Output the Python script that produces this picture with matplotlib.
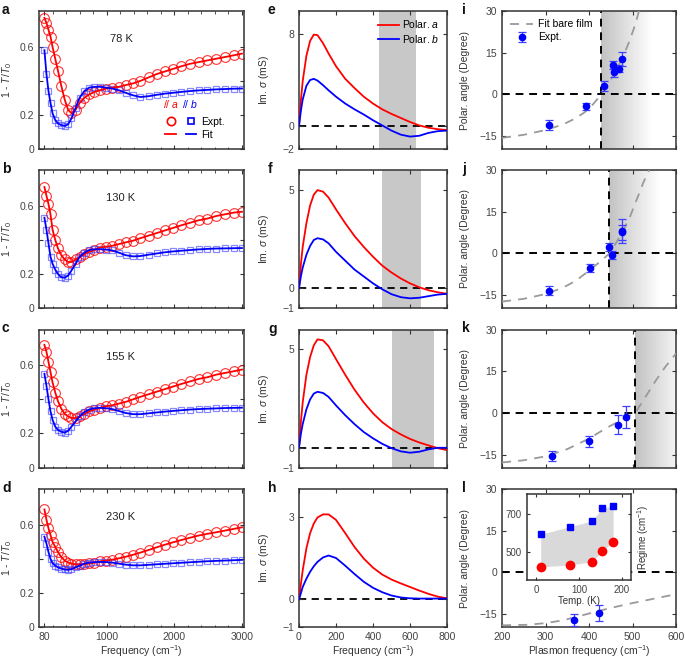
import numpy as np
import matplotlib
matplotlib.use('Agg')
import matplotlib.pyplot as plt
from matplotlib.lines import Line2D
from matplotlib.legend_handler import HandlerTuple
from matplotlib.colors import LinearSegmentedColormap

plt.rcParams['font.family'] = ['Liberation Sans', 'DejaVu Sans']
plt.rcParams['mathtext.fontset'] = 'custom'
plt.rcParams['mathtext.rm'] = 'Liberation Sans'
plt.rcParams['mathtext.it'] = 'Liberation Sans:italic'
plt.rcParams['font.size'] = 7.5
plt.rcParams['axes.linewidth'] = 1.1
plt.rcParams['axes.edgecolor'] = '#333333'
plt.rcParams['axes.labelcolor'] = '#333333'
for ax_ in ['xtick', 'ytick']:
    plt.rcParams[ax_ + '.direction'] = 'in'
    plt.rcParams[ax_ + '.major.size'] = 3
    plt.rcParams[ax_ + '.minor.size'] = 1.8
    plt.rcParams[ax_ + '.major.width'] = 0.8
    plt.rcParams[ax_ + '.color'] = '#333333'
    plt.rcParams[ax_ + '.labelcolor'] = '#444444'
plt.rcParams['xtick.top'] = True
plt.rcParams['ytick.right'] = True

RED = '#ff0000'
BLUE = '#0000ff'

# ---------------- data: transmission (a-d) ----------------
freq = [80, 110, 140, 170, 200, 240, 280, 330, 380, 430, 480, 540, 600, 670, 740,
        820, 900, 990, 1080, 1180, 1280, 1390, 1500, 1620, 1740, 1860, 1980, 2100,
        2230, 2360, 2490, 2620, 2750, 2880, 3000]
temps = ['78 K', '130 K', '155 K', '230 K']

red_a = [0.77, 0.74, 0.70, 0.66, 0.60, 0.53, 0.46, 0.37, 0.29, 0.23, 0.21, 0.23, 0.27, 0.30, 0.32,
         0.335, 0.345, 0.355, 0.36, 0.365, 0.375, 0.385, 0.40, 0.42, 0.44, 0.455, 0.47, 0.485,
         0.50, 0.51, 0.52, 0.53, 0.54, 0.55, 0.56]
blue_a = [0.58, 0.44, 0.34, 0.27, 0.21, 0.17, 0.15, 0.14, 0.135, 0.145, 0.18, 0.24, 0.30, 0.34, 0.36,
          0.365, 0.365, 0.36, 0.355, 0.345, 0.33, 0.315, 0.305, 0.31, 0.318, 0.325, 0.33, 0.335,
          0.34, 0.344, 0.347, 0.35, 0.352, 0.354, 0.355]
red_b = [0.71, 0.66, 0.61, 0.55, 0.46, 0.40, 0.35, 0.31, 0.285, 0.27, 0.27, 0.285, 0.30, 0.315, 0.33,
         0.34, 0.355, 0.36, 0.365, 0.375, 0.385, 0.395, 0.41, 0.425, 0.44, 0.455, 0.47, 0.485,
         0.50, 0.515, 0.525, 0.54, 0.55, 0.56, 0.565]
blue_b = [0.53, 0.46, 0.38, 0.30, 0.26, 0.225, 0.20, 0.18, 0.178, 0.19, 0.22, 0.26, 0.30, 0.325, 0.34,
          0.345, 0.345, 0.343, 0.338, 0.325, 0.31, 0.303, 0.305, 0.313, 0.32, 0.327, 0.332, 0.336,
          0.34, 0.344, 0.347, 0.349, 0.35, 0.351, 0.352]
red_c = [0.72, 0.68, 0.62, 0.56, 0.50, 0.44, 0.39, 0.345, 0.315, 0.30, 0.29, 0.29, 0.30, 0.315, 0.33,
         0.34, 0.35, 0.36, 0.365, 0.375, 0.385, 0.40, 0.415, 0.43, 0.445, 0.46, 0.475, 0.49,
         0.505, 0.52, 0.53, 0.545, 0.555, 0.565, 0.575]
blue_c = [0.55, 0.48, 0.40, 0.33, 0.28, 0.24, 0.22, 0.21, 0.205, 0.215, 0.24, 0.27, 0.30, 0.325, 0.34,
          0.348, 0.35, 0.348, 0.343, 0.332, 0.32, 0.313, 0.313, 0.318, 0.323, 0.328, 0.332, 0.336,
          0.34, 0.343, 0.345, 0.347, 0.349, 0.35, 0.351]
red_d = [0.69, 0.63, 0.58, 0.54, 0.50, 0.47, 0.44, 0.41, 0.39, 0.378, 0.372, 0.368, 0.367, 0.37, 0.373,
         0.378, 0.385, 0.39, 0.395, 0.403, 0.412, 0.424, 0.437, 0.452, 0.468, 0.483, 0.497, 0.51,
         0.524, 0.537, 0.547, 0.556, 0.566, 0.576, 0.585]
blue_d = [0.53, 0.49, 0.44, 0.40, 0.375, 0.36, 0.35, 0.343, 0.338, 0.335, 0.34, 0.35, 0.36, 0.372, 0.378,
          0.381, 0.382, 0.381, 0.378, 0.372, 0.366, 0.362, 0.362, 0.365, 0.368, 0.371, 0.374, 0.377,
          0.38, 0.383, 0.386, 0.388, 0.39, 0.392, 0.394]
red_T = [red_a, red_b, red_c, red_d]
blue_T = [blue_a, blue_b, blue_c, blue_d]

# ---------------- data: Im sigma (e-h) ----------------
f_sig = [0, 10, 20, 40, 60, 80, 100, 130, 160, 200, 250, 300, 350, 400, 450, 500,
         550, 600, 650, 700, 750, 800]
red_e = [0, 2.2, 3.9, 6.1, 7.4, 7.95, 7.9, 7.2, 6.3, 5.2, 4.1, 3.3, 2.55, 1.95, 1.45, 1.05,
         0.7, 0.35, 0.05, -0.15, -0.28, -0.35]
blue_e = [0, 1.3, 2.3, 3.5, 4.0, 4.1, 3.95, 3.55, 3.1, 2.55, 1.95, 1.45, 1.0, 0.5, 0.05, -0.4,
          -0.75, -0.92, -0.85, -0.6, -0.45, -0.4]
red_f = [0, 1.2, 2.1, 3.3, 4.2, 4.75, 4.98, 4.9, 4.6, 4.0, 3.3, 2.65, 2.1, 1.6, 1.15, 0.8,
         0.5, 0.25, 0.05, -0.1, -0.2, -0.28]
blue_f = [0, 0.6, 1.05, 1.7, 2.15, 2.45, 2.54, 2.48, 2.28, 1.85, 1.4, 0.95, 0.6, 0.25, -0.05, -0.3,
          -0.45, -0.51, -0.48, -0.4, -0.32, -0.28]
red_g = [0, 1.3, 2.3, 3.7, 4.6, 5.2, 5.5, 5.45, 5.15, 4.5, 3.7, 2.95, 2.3, 1.75, 1.3, 0.95,
         0.68, 0.45, 0.27, 0.12, -0.02, -0.12]
blue_g = [0, 0.7, 1.2, 1.95, 2.45, 2.75, 2.84, 2.78, 2.58, 2.15, 1.65, 1.2, 0.8, 0.48, 0.2, -0.02,
          -0.18, -0.25, -0.2, -0.08, 0.0, 0.0]
red_h = [0, 0.55, 1.05, 1.85, 2.4, 2.75, 2.97, 3.08, 3.08, 2.88, 2.4, 1.9, 1.48, 1.15, 0.9, 0.72,
         0.58, 0.45, 0.32, 0.2, 0.1, 0.04]
blue_h = [0, 0.22, 0.45, 0.75, 1.0, 1.2, 1.36, 1.52, 1.59, 1.5, 1.22, 0.92, 0.64, 0.42, 0.26, 0.14,
          0.07, 0.04, 0.03, 0.03, 0.03, 0.03]
red_sig = [red_e, red_f, red_g, red_h]
blue_sig = [blue_e, blue_f, blue_g, blue_h]
sig_ylim = [(-2, 10), (-1, 6), (-1, 6), (-1, 4)]
sig_ticks = [[-2, 0, 8], [-1, 0, 5], [-1, 0, 5], [-1, 0, 3]]
bands = [(430, 630), (447, 660), (505, 730), None]

# ---------------- data: polar angle (i-l) ----------------
fit_x = [[200, 250, 300, 340, 370, 390, 410, 428, 445, 460, 475, 490, 505, 515],
         [200, 250, 300, 340, 370, 400, 425, 447, 465, 480, 495, 510, 525, 538],
         [200, 250, 300, 350, 400, 440, 470, 506, 530, 552, 575, 600],
         [200, 260, 300, 340, 380, 420, 460, 500, 550, 600]]
fit_y = [[-15.6, -14.5, -12.8, -10.8, -8.5, -6.4, -3.4, 0, 3.8, 8, 12.6, 18, 24.5, 30],
         [-17.3, -16.3, -14.6, -12.3, -9.8, -6.2, -3.0, 0, 4.5, 8.6, 13.5, 19.5, 25.5, 30],
         [-17.8, -17.0, -15.6, -13.0, -9.2, -5.4, -2.9, 0, 5.8, 11.3, 16.5, 21.4],
         [-19.0, -18.8, -18.2, -17.2, -15.6, -13.9, -12.4, -11.0, -9.4, -7.8]]
exp_x = [[307, 394, 435, 456, 457, 470, 476],
         [309, 403, 447, 453, 476, 477],
         [316, 401, 466, 486],
         [366, 424]]
exp_y = [[-11.1, -4.3, 3.0, 10.5, 8.0, 9.2, 12.8],
         [-13.4, -5.25, 2.4, -0.6, 7.6, 8.1],
         [-15.4, -10.2, -4.2, -1.55],
         [-17.1, -14.5]]
exp_err = [[1.8, 1.3, 1.75, 1.5, 1.6, 1.3, 2.6],
           [1.65, 1.3, 1.5, 1.5, 2.7, 4.3],
           [1.8, 2.1, 3.3, 3.9],
           [2.1, 2.9]]
cross = [428, 447, 506, None]

# inset of l
ins_temp = [10, 78, 130, 155, 180]
ins_upper = [592, 633, 663, 733, 741]
ins_lower = [420, 429, 447, 505, 553]

# ---------------- layout ----------------
W, H = 685, 661
fig = plt.figure(figsize=(6.85, 6.61), dpi=100)
tops = [11, 170, 329.5, 489]
hgt = 138
cols = [(39, 205), (299, 148), (502, 174)]
letters = [['a', 'b', 'c', 'd'], ['e', 'f', 'g', 'h'], ['i', 'j', 'k', 'l']]
lab_x = [2, 268, 462]


def make_ax(c, r):
    x0, w = cols[c]
    ax = fig.add_axes([x0 / W, 1 - (tops[r] + hgt) / H, w / W, hgt / H])
    fig.text(lab_x[c] / W, 1 - (tops[r] - 8) / H, letters[c][r], fontsize=10,
             fontweight='bold', va='top', ha='left', color='#111111')
    return ax


# column 1: transmission
for r in range(4):
    ax = make_ax(0, r)
    ax.plot(freq, red_T[r], '-', color=RED, lw=1.3, zorder=3)
    ax.plot(freq, blue_T[r], '-', color=BLUE, lw=1.3, zorder=3)
    ax.plot(freq, red_T[r], 'o', mfc='none', mec=RED, ms=7, mew=0.8, alpha=0.8, zorder=2)
    ax.plot(freq, blue_T[r], 's', mfc='none', mec='#3a3aff', ms=5, mew=0.9, alpha=0.6, zorder=2)
    ax.set_xlim(0, 3030)
    ax.set_ylim(0, 0.81)
    ax.set_xticks([80, 1000, 2000, 3000])
    ax.set_xticks(np.arange(200, 3000, 200), minor=True)
    ax.tick_params(which='minor', direction='in', top=True)
    ax.set_yticks([0, 0.2, 0.4, 0.6])
    ax.set_yticklabels(['0', '0.2', '', '0.6'])
    ax.set_ylabel(r'1 - $T$/$T_0$')
    ax.yaxis.set_label_coords(-0.12, 0.5)
    ax.text(0.40, 0.80, temps[r], transform=ax.transAxes, ha='center', va='center',
            fontsize=8, color='#222222')
    if r < 3:
        ax.set_xticklabels([])
    else:
        ax.set_xlabel(r'Frequency (cm$^{-1}$)', labelpad=1)
    if r == 0:
        ax.text(0.605, 0.30, r'// $a$', color=RED, transform=ax.transAxes, fontsize=7.5)
        ax.text(0.70, 0.30, r'// $b$', color=BLUE, transform=ax.transAxes, fontsize=7.5)
        h_exp = (Line2D([], [], ls='none', marker='o', mfc='none', mec=RED, ms=6, mew=1.2),
                 Line2D([], [], ls='none', marker='s', mfc='none', mec=BLUE, ms=5, mew=1.2))
        h_fit = (Line2D([], [], color=RED, lw=1.3), Line2D([], [], color=BLUE, lw=1.3))
        ax.legend([h_exp, h_fit], ['Expt.', 'Fit'],
                  handler_map={tuple: HandlerTuple(ndivide=None, pad=0.9)},
                  frameon=False, loc='lower left', bbox_to_anchor=(0.57, 0.0),
                  handlelength=3.0, handletextpad=0.4, labelspacing=0.25, fontsize=7.5)

# column 2: Im sigma
for r in range(4):
    ax = make_ax(1, r)
    if bands[r] is not None:
        ax.axvspan(bands[r][0], bands[r][1], color='#c8c8c8', lw=0, zorder=0)
    ax.axhline(0, color='k', ls='--', lw=1.3, dashes=(4, 3), zorder=1)
    ax.plot(f_sig, red_sig[r], color=RED, lw=1.3, label=r'Polar. $a$', zorder=3)
    ax.plot(f_sig, blue_sig[r], color=BLUE, lw=1.3, label=r'Polar. $b$', zorder=3)
    ax.set_xlim(0, 800)
    ax.set_ylim(*sig_ylim[r])
    ax.set_xticks([0, 200, 400, 600, 800])
    ax.set_yticks(sig_ticks[r])
    ax.set_ylabel(r'Im. $\sigma$ (mS)')
    ax.yaxis.set_label_coords(-0.19, 0.5)
    if r < 3:
        ax.set_xticklabels([])
    else:
        ax.set_xlabel(r'Frequency (cm$^{-1}$)', labelpad=1)
    if r == 0:
        ax.legend(loc='upper right', frameon=False, handlelength=2.0, handletextpad=0.3,
                  labelspacing=0.25, borderaxespad=0.3, fontsize=7.5)

# column 3: polar angle
shade = LinearSegmentedColormap.from_list('shade', ['#c2c2c2', '#ffffff'])
grad = np.linspace(0, 1, 256).reshape(1, -1)
ylo = -19.6
for r in range(4):
    ax = make_ax(2, r)
    if cross[r] is not None:
        ax.imshow(grad, extent=[cross[r], cross[r] + 115, ylo, 30], aspect='auto',
                  cmap=shade, zorder=0)
        ax.axvline(cross[r], color='k', ls='--', lw=1.4, dashes=(4, 3), zorder=2)
    ax.axhline(0, color='k', ls='--', lw=1.4, dashes=(4, 3), zorder=2)
    ax.plot(fit_x[r], fit_y[r], color='#9a9a9a', ls='--', lw=1.3, dashes=(5, 4),
            label='Fit bare film', zorder=3)
    ax.errorbar(exp_x[r], exp_y[r], yerr=exp_err[r], fmt='o', color=BLUE, ms=4.5,
                ecolor='#3f3fff', elinewidth=0.9, capsize=3, capthick=0.9,
                label='Expt.', zorder=4)
    ax.set_xlim(200, 600)
    ax.set_ylim(ylo, 30)
    ax.set_xticks([200, 300, 400, 500, 600])
    ax.set_yticks([-15, 0, 15, 30])
    ax.set_ylabel('Polar. angle (Degree)')
    ax.yaxis.set_label_coords(-0.185, 0.5)
    if r < 3:
        ax.set_xticklabels([])
    else:
        ax.set_xlabel(r'Plasmon frequency (cm$^{-1}$)', labelpad=1)
    if r == 0:
        ax.legend(loc='upper left', frameon=False, handlelength=2.2, handletextpad=0.5,
                  labelspacing=0.3, borderaxespad=0.4, fontsize=7.5)

# inset in l
axi = fig.add_axes([526.7 / W, 1 - 580 / H, (631 - 526.7) / W, (580 - 494) / H])
axi.fill_between(ins_temp, ins_lower, ins_upper, color='#d9d9d9', lw=0)
axi.plot(ins_temp, ins_upper, 's', color=BLUE, ms=4)
axi.plot(ins_temp, ins_lower, 'o', color=RED, ms=6)
axi.set_xlim(-23, 222)
axi.set_ylim(350, 806)
axi.set_xticks([0, 100, 200])
axi.set_yticks([500, 700])
axi.tick_params(labelsize=7, length=2.5)
axi.set_xlabel('Temp. (K)', fontsize=7, labelpad=1)
axi.yaxis.set_label_position('right')
axi.set_ylabel(r'Regime (cm$^{-1}$)', fontsize=7, labelpad=3)

fig.savefig('out.png', dpi=100)
